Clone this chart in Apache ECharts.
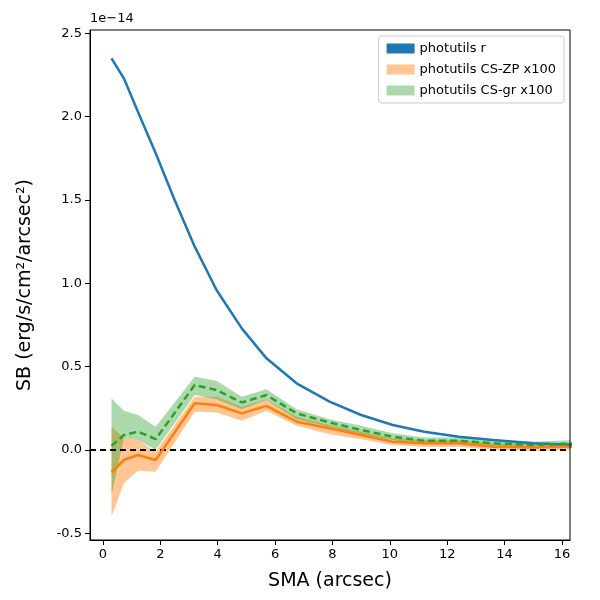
<!DOCTYPE html><html><head><meta charset="utf-8"><script src="https://cdn.jsdelivr.net/npm/echarts@6/dist/echarts.min.js"></script></head><body style="margin:0"><div id="c" style="width:600px;height:600px"></div><script>
const xBlue=[0.30,0.73,1.22,1.84,2.5,3.2,3.96,4.84,5.7,6.75,7.9,9.0,10.1,11.2,12.4,13.6,15.0,16.5];
const blue=[2.35,2.23,2.03,1.78,1.50,1.22,0.96,0.73,0.55,0.40,0.29,0.21,0.15,0.11,0.08,0.06,0.04,0.03];
const xs=[0.30,0.73,1.22,1.84,3.2,3.96,4.84,5.7,6.75,7.9,9.0,10.1,11.2,12.4,13.6,15.0,16.5];
const orange=[-0.135,-0.06,-0.03,-0.06,0.28,0.27,0.22,0.265,0.17,0.13,0.09,0.05,0.04,0.04,0.02,0.015,0.02];
const orangeLo=[-0.40,-0.20,-0.125,-0.13,0.23,0.225,0.175,0.235,0.145,0.095,0.065,0.03,0.02,0.02,0.0,-0.005,0.0];
const orangeHi=[0.14,0.07,0.06,-0.01,0.32,0.32,0.26,0.305,0.20,0.15,0.11,0.07,0.06,0.06,0.04,0.035,0.04];
const green=[0.025,0.09,0.11,0.065,0.39,0.36,0.285,0.33,0.22,0.165,0.12,0.08,0.055,0.055,0.04,0.03,0.04];
const greenLo=[-0.27,0.07,0.06,0.0,0.33,0.305,0.245,0.30,0.185,0.14,0.095,0.06,0.035,0.035,0.02,0.01,0.02];
const greenHi=[0.31,0.235,0.21,0.14,0.44,0.415,0.32,0.365,0.245,0.185,0.145,0.10,0.075,0.075,0.06,0.05,0.06];
const yTicks=[-0.5,0,0.5,1.0,1.5,2.0,2.5];
const xTicks=[0,2,4,6,8,10,12,14,16];
const pair=(x,y)=>x.map((v,i)=>[v,y[i]]);
function band(lo,hi,name,color){
 return {type:'custom',name,z:1,silent:true,clip:true,itemStyle:{color},
  data:xs.map((x,i)=>[x,lo[i],hi[i]]),
  renderItem:(params,api)=>{
   if(params.dataIndex!==0) return null;
   const pts=[];
   for(let i=0;i<xs.length;i++) pts.push(api.coord([xs[i],hi[i]]));
   for(let i=xs.length-1;i>=0;i--) pts.push(api.coord([xs[i],lo[i]]));
   const cs=params.coordSys;
   return {type:'polygon',shape:{points:pts},style:{fill:color},
    clipPath:{type:'rect',shape:{x:cs.x,y:cs.y,width:cs.width,height:cs.height}}};
  }};
}
const ch=echarts.init(document.getElementById('c'));
ch.setOption({animation:false,
grid:{left:90,right:30,top:30,bottom:60},
legend:{right:36,top:36,orient:'vertical',itemWidth:28,itemHeight:10,itemGap:8,textStyle:{fontSize:13,color:'#000',fontFamily:'DejaVu Sans'},backgroundColor:'#fff',borderColor:'#ccc',borderWidth:1,borderRadius:3,padding:[6,8],
 data:[{name:'photutils r',icon:'rect',itemStyle:{color:'#1f77b4'}},{name:'photutils CS-ZP x100',icon:'rect',itemStyle:{color:'rgba(255,127,14,0.45)'}},{name:'photutils CS-gr x100',icon:'rect',itemStyle:{color:'rgba(44,160,44,0.4)'}}]},
xAxis:{type:'value',min:-0.45,max:16.28,name:'SMA (arcsec)',nameLocation:'middle',nameGap:32,nameTextStyle:{fontSize:19,color:'#000',fontFamily:'DejaVu Sans'},
 axisLine:{onZero:false,lineStyle:{color:'#000'}},splitLine:{show:false},axisTick:{customValues:xTicks,lineStyle:{color:'#000'}},axisLabel:{customValues:xTicks,color:'#000',fontSize:13,fontFamily:'DejaVu Sans'}},
yAxis:{type:'value',min:-0.54,max:2.52,name:'SB (erg/s/cm²/arcsec²)',nameLocation:'middle',nameGap:55,nameTextStyle:{fontSize:19,color:'#000',fontFamily:'DejaVu Sans'},
 axisLine:{show:true,onZero:false,lineStyle:{color:'#000'}},splitLine:{show:false},axisTick:{show:true,customValues:yTicks,lineStyle:{color:'#000'}},axisLabel:{customValues:yTicks,formatter:v=>v.toFixed(1),color:'#000',fontSize:13,fontFamily:'DejaVu Sans'}},
graphic:[{type:'text',left:90,top:12,style:{text:'1e−14',fontSize:13,fill:'#000',fontFamily:'DejaVu Sans'}},
 {type:'rect',shape:{x:90,y:30,width:480,height:510},style:{fill:'none',stroke:'#000',lineWidth:1},z:100}],
series:[
 band(orangeLo,orangeHi,'photutils CS-ZP x100','rgba(255,127,14,0.45)'),
 band(greenLo,greenHi,'photutils CS-gr x100','rgba(44,160,44,0.4)'),
 {type:'line',name:'photutils r',data:pair(xBlue,blue),symbol:'none',lineStyle:{color:'#1f77b4',width:2.5},z:5},
 {type:'line',data:pair(xs,orange),symbol:'none',lineStyle:{color:'#ff7f0e',width:2.5},z:5,
  markLine:{silent:true,symbol:'none',label:{show:false},lineStyle:{color:'#000',type:[6,4],width:1.8},data:[{yAxis:0}]}},
 {type:'line',data:pair(xs,green),symbol:'none',lineStyle:{color:'#2ca02c',width:2.5,type:[7,4]},z:6}
]});
</script></body></html>
